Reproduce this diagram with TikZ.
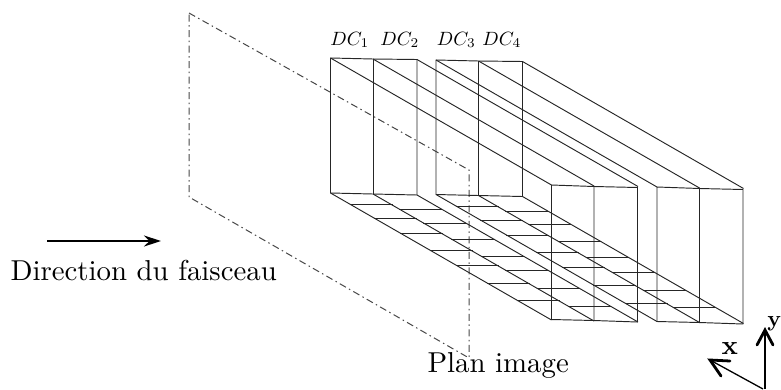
\documentclass[tikz,border=0pt]{standalone}
\usetikzlibrary{arrows.meta}
\tikzset{
  wire/.style={line width=0.95pt,color=black!85},
  plane/.style={line width=1pt,color=black!72,dash pattern=on 7pt off 3.5pt on 1.5pt off 3.5pt},
  lab/.style={inner sep=0pt,anchor=base west,scale=2.88},
  axlab/.style={inner sep=0pt,anchor=base west,scale=2.7,font=\bfseries},
  aylab/.style={inner sep=0pt,anchor=base west,scale=2.25,font=\bfseries},
  dc/.style={inner sep=0pt,anchor=base west,scale=1.92},
  beam/.style={line width=1.5pt,-{Stealth[length=17pt,width=11pt]}},
  axisline/.style={line width=1.3pt},
  axishead/.style={line width=2.8pt,line cap=round,line join=miter}
}
\newcommand{\chamber}[5]{%
  \draw[wire] (#1,#4) -- (#2,#4+1) -- (#3,#4+1.5) -- (#3,#5+2) -- (#2,#5+1) -- (#1,#5) -- cycle;
  \draw[wire] (#2,#4+1) -- (#2,#5+1);
  \draw[wire] (#1,#4) -- ++(221,127) -- ++(42.5,1.5) -- ++(43.5,1) -- ++(0,134.5) -- ++(-43.5,-1.5) -- ++(-42.5,-1) -- ++(0,-134.5);
  \draw[wire] (#2,#4+1) -- ++(221,127) -- ++(0,135);
  \draw[wire] (#3,#4+1.5) -- ++(221,127);
  \draw[wire] (#1,#5) -- ++(221,127);
  \draw[wire] (#2,#5+1) -- ++(221,127);
  \draw[wire] (#3,#5+2) -- ++(221,127);
}
\newcommand{\rungs}[3]{%
  \foreach \yy in {#3} {
    \pgfmathsetmacro{\xx}{#1+(\yy-#2)/127*221}
    \draw[wire,line width=0.85pt] (\xx,\yy) -- ++(43,0);
  }
}
\begin{document}
\begin{tikzpicture}[x=1pt,y=-1pt]
\useasboundingbox (0,0) rectangle (781,389);
% image plane
\coordinate (pa) at (189,13);
\coordinate (pb) at (469,170);
\coordinate (pc) at (469,358);
\coordinate (pd) at (189,197);
\draw[plane] (pa) -- (pb) -- (pc) -- (pd) -- cycle;
% detector chambers
\chamber{330.5}{373}{417}{58}{193}
\chamber{436}{478.5}{522.5}{60}{194.5}
% floor cross lines
\rungs{330.5}{193}{204.3,218,233,250,265,283,300}
\rungs{373}{194}{209,223,239,256,270,288,306}
\rungs{436}{194.5}{206,220,235,252,267,285,303}
\rungs{478.5}{195.5}{211,224,241,257,272,290,307}
% labels
\node[dc] (d1) at (330,45) {$DC_1$};
\node[dc] (d2) at (380,45) {$DC_2$};
\node[dc] (d3) at (436.5,45) {$DC_3$};
\node[dc] (d4) at (482,45) {$DC_4$};
\node[lab] (beamlab) at (10,280) {Direction du faisceau};
\node[lab] (planlab) at (427,372.5) {Plan image};
\coordinate (bs) at (47,241);
\coordinate (be) at (161,241);
\draw[beam] (bs) -- (be);
% axes
\coordinate (o) at (765,389);
\coordinate (ax) at (710,360);
\coordinate (ay) at (765,330);
\coordinate (oo) at (763,389);
\draw[axisline] (o) -- (ay);
\draw[axisline] (oo) -- (ax);
\draw[axishead] (757,345) -- (ay) -- (773,345);
\draw[axishead] (730,361) -- (ax) -- (721,376);
\node[axlab] (xl) at (721,354) {x};
\node[aylab] (yl) at (767,326) {y};
\end{tikzpicture}
\end{document}
